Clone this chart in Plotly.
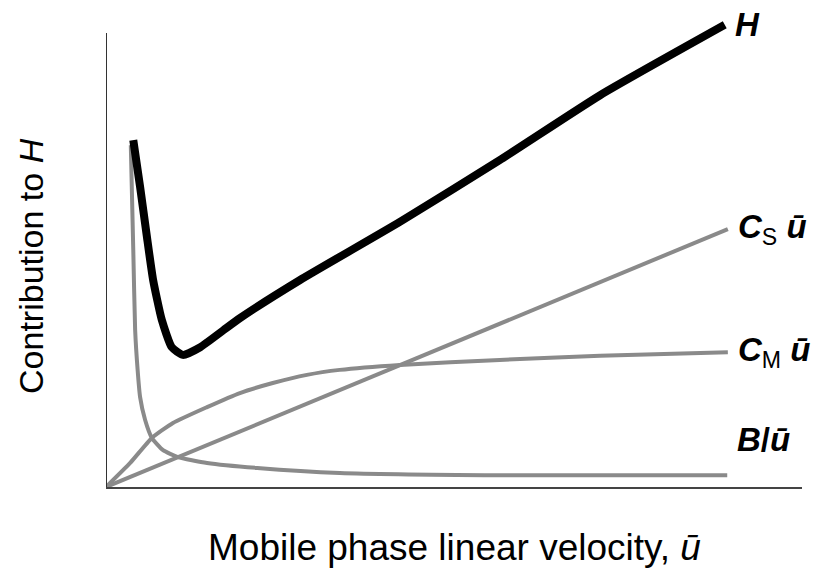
import plotly.graph_objects as go

# van Deemter contributions vs mobile phase linear velocity (arbitrary units)
b_x = [0.40, 0.44, 0.47, 0.51, 0.55, 0.63, 0.74, 0.92, 1.16, 1.63, 2.44, 3.77, 6.35, 10.02]
b_y = [7.53, 5.22, 3.46, 2.58, 1.98, 1.48, 1.08, 0.81, 0.66, 0.53, 0.42, 0.31, 0.26, 0.26]

cm_x = [0.0, 0.39, 0.74, 1.08, 1.63, 2.16, 2.69, 3.24, 3.77, 4.74, 6.35, 7.97, 10.03]
cm_y = [0.0, 0.53, 1.08, 1.41, 1.76, 2.07, 2.29, 2.47, 2.58, 2.69, 2.80, 2.89, 2.97]

cs_x = [0.0, 10.03]
cs_y = [0.0, 5.68]

h_x = [0.44, 0.55, 0.66, 0.76, 0.90, 1.06, 1.24, 1.52, 1.89, 2.16, 3.13, 4.74, 6.35, 7.97, 9.98]
h_y = [7.64, 6.61, 5.51, 4.56, 3.68, 3.08, 2.91, 3.08, 3.45, 3.72, 4.56, 5.84, 7.20, 8.63, 10.18]

x_max = 11.226
y_max = 10.595
y_axis_top = 10.0

GRAY = "#8a8a8a"
FONT = "Liberation Sans, Arial, sans-serif"

fig = go.Figure()
for xs, ys in [(b_x, b_y), (cm_x, cm_y), (cs_x, cs_y)]:
    fig.add_trace(go.Scatter(x=xs, y=ys, mode="lines",
                             line=dict(color=GRAY, width=4, shape="spline", smoothing=0.5),
                             hoverinfo="skip"))
fig.add_trace(go.Scatter(x=h_x, y=h_y, mode="lines",
                         line=dict(color="black", width=8, shape="spline", smoothing=0.5),
                         hoverinfo="skip"))

label_font = dict(family=FONT, size=33, color="black")
labels = [
    (h_x[-1], h_y[-1], "<b><i>H</i></b>", 0),
    (cs_x[-1], cs_y[-1], "<b><i>C</i></b><sub>S</sub> <b><i>ū</i></b>", 0),
    (cm_x[-1], cm_y[-1], "<b><i>C</i></b><sub>M</sub> <b><i>ū</i></b>", 0),
    (b_x[-1], b_y[-1], "<b><i>B</i>/<i>ū</i></b>", 36),
]
for lx, ly, txt, dy in labels:
    fig.add_annotation(x=lx, y=ly, xref="x", yref="y", text=txt, showarrow=False,
                       xanchor="left", yanchor="middle", xshift=8, yshift=dy,
                       font=label_font)

fig.add_annotation(x=0.5014, y=-0.125, xref="paper", yref="paper",
                   text="Mobile phase linear velocity, <i>ū</i>", showarrow=False,
                   xanchor="center", yanchor="middle",
                   font=dict(family=FONT, size=37, color="black"))
fig.add_annotation(x=-0.1078, y=0.4595, xref="paper", yref="paper",
                   text="Contribution to <i>H</i>", showarrow=False, textangle=-90,
                   xanchor="center", yanchor="middle",
                   font=dict(family=FONT, size=34, color="black"))

# left axis line stops below the top of the plotting area
fig.add_shape(type="line", xref="x", yref="y", x0=0, x1=0, y0=0, y1=y_axis_top,
              line=dict(color="#333333", width=2))

fig.update_layout(
    width=815, height=571,
    margin=dict(l=106, r=13, t=6, b=84),
    paper_bgcolor="white", plot_bgcolor="white",
    showlegend=False,
    xaxis=dict(range=[0, x_max], showgrid=False, zeroline=False, showticklabels=False,
               ticks="", showline=True, linecolor="#444444", linewidth=2),
    yaxis=dict(range=[0, y_max], showgrid=False, zeroline=False, showticklabels=False,
               ticks="", showline=False),
)

fig.write_html("out.html")
